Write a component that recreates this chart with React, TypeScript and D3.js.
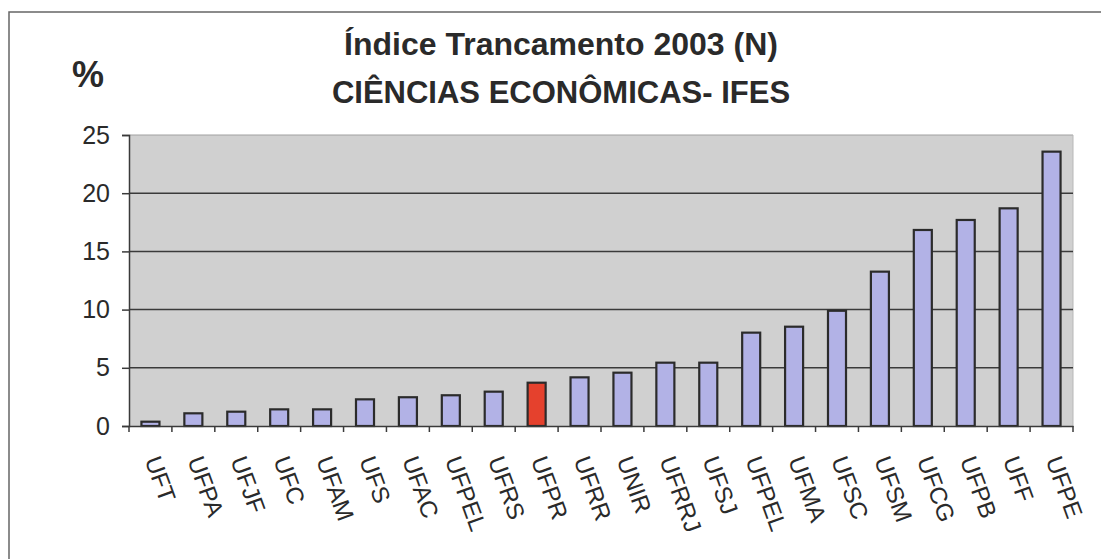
import { useEffect, useRef } from "react";
import * as d3 from "d3";

const W = 1101;
const H = 559;
const M = { top: 135, right: 28, bottom: 133, left: 129 };

const categories = [
  "UFT", "UFPA", "UFJF", "UFC", "UFAM", "UFS", "UFAC", "UFPEL", "UFRS", "UFPR", "UFRR",
  "UNIR", "UFRRJ", "UFSJ", "UFPEL", "UFMA", "UFSC", "UFSM", "UFCG", "UFPB", "UFF", "UFPE",
];
const values = [
  0.37, 1.09, 1.23, 1.43, 1.43, 2.29, 2.47, 2.64, 2.95, 3.72, 4.18,
  4.58, 5.44, 5.44, 8.02, 8.53, 9.9, 13.26, 16.84, 17.7, 18.7, 23.57,
];
const highlighted = ["UFPR"];
const yTicks = [0, 5, 10, 15, 20, 25];
const titleLines = ["Índice Trancamento 2003 (N)", "CIÊNCIAS ECONÔMICAS- IFES"];

const FONT = "Liberation Sans, Arial, Helvetica, sans-serif";

export default function App() {
  const svgRef = useRef<SVGSVGElement | null>(null);

  useEffect(() => {
    const el = svgRef.current;
    if (!el) return;
    d3.select(el).selectAll("*").remove();

    const svg = d3.select(el);
    const iW = W - M.left - M.right;
    const iH = H - M.top - M.bottom;

    // outer frame (cut off at right / bottom in the scan)
    svg.append("rect")
      .attr("x", 9).attr("y", 12).attr("width", W + 20).attr("height", H + 20)
      .attr("fill", "#fff").attr("stroke", "#666").attr("stroke-width", 1.5);

    // titles
    titleLines.forEach((t, i) => {
      svg.append("text")
        .attr("x", 561).attr("y", 55 + i * 48)
        .attr("text-anchor", "middle")
        .attr("font-family", FONT).attr("font-weight", "bold")
        .attr("font-size", i === 0 ? 32 : 31).attr("fill", "#2a2a2a")
        .text(t);
    });

    svg.append("text")
      .attr("x", 88).attr("y", 87)
      .attr("text-anchor", "middle")
      .attr("font-family", FONT).attr("font-weight", "bold")
      .attr("font-size", 36).attr("fill", "#2a2a2a")
      .text("%");

    const g = svg.append("g").attr("transform", `translate(${M.left},${M.top})`);

    const x = d3.scaleBand<number>().domain(d3.range(categories.length)).range([0, iW]).padding(0);
    const y = d3.scaleLinear().domain([0, 25]).range([iH, 0]);

    // plot area
    g.append("rect")
      .attr("width", iW).attr("height", iH)
      .attr("fill", "#d0d0d0");
    g.append("line")
      .attr("x1", 0).attr("x2", iW).attr("y1", 0).attr("y2", 0)
      .attr("stroke", "#a0a0a0").attr("stroke-width", 1);
    g.append("line")
      .attr("x1", iW).attr("x2", iW).attr("y1", 0).attr("y2", iH)
      .attr("stroke", "#b8b8b8").attr("stroke-width", 1);

    // grid
    yTicks.filter(v => v > 0 && v < 25).forEach(v => {
      g.append("line")
        .attr("x1", 0).attr("x2", iW)
        .attr("y1", y(v)).attr("y2", y(v))
        .attr("stroke", "#3a3a3a").attr("stroke-width", 1.5);
    });

    // bars
    const barW = x.bandwidth() * 0.42;
    g.selectAll("rect.bar").data(values).join("rect")
      .attr("class", "bar")
      .attr("x", (_, i) => (x(i) ?? 0) + (x.bandwidth() - barW) / 2)
      .attr("y", d => y(d))
      .attr("width", barW)
      .attr("height", d => y(0) - y(d))
      .attr("fill", (_, i) => highlighted.includes(categories[i]) ? "#e5412d" : "#b2b2e6")
      .attr("stroke", "#2b2b2b")
      .attr("stroke-width", 2.2);

    // y axis
    g.append("g").call(
      d3.axisLeft(y).tickValues(yTicks).tickSize(7).tickPadding(12).tickFormat(d3.format("d"))
    ).call(a => {
      a.select(".domain").attr("stroke", "#3a3a3a").attr("stroke-width", 1.5);
      a.selectAll(".tick line").attr("stroke", "#3a3a3a").attr("stroke-width", 1.5);
      a.selectAll("text").attr("font-size", 25).attr("fill", "#2a2a2a").attr("font-family", FONT);
    });

    // x axis: labels at band centres, ticks at band edges
    g.append("g").attr("transform", `translate(0,${iH})`).call(
      d3.axisBottom(x).tickSize(0).tickSizeOuter(0).tickFormat(i => categories[i as number])
    ).call(a => {
      a.select(".domain").attr("stroke", "#3a3a3a").attr("stroke-width", 1.5);
      a.selectAll("text")
        .attr("font-size", 24).attr("fill", "#2a2a2a").attr("font-family", FONT)
        .attr("text-anchor", "start")
        .attr("x", 0).attr("y", 0).attr("dy", 0)
        .attr("transform", "translate(-6,34) rotate(70)");
    });

    d3.range(categories.length + 1).forEach(i => {
      const px = i * x.step();
      g.append("line")
        .attr("x1", px).attr("x2", px).attr("y1", iH).attr("y2", iH + 6)
        .attr("stroke", "#3a3a3a").attr("stroke-width", 1.5);
    });
  }, []);

  return (
    <svg
      ref={svgRef}
      width={W}
      height={H}
      style={{ position: "absolute", left: 0, top: 0, display: "block", background: "#fff" }}
    />
  );
}
